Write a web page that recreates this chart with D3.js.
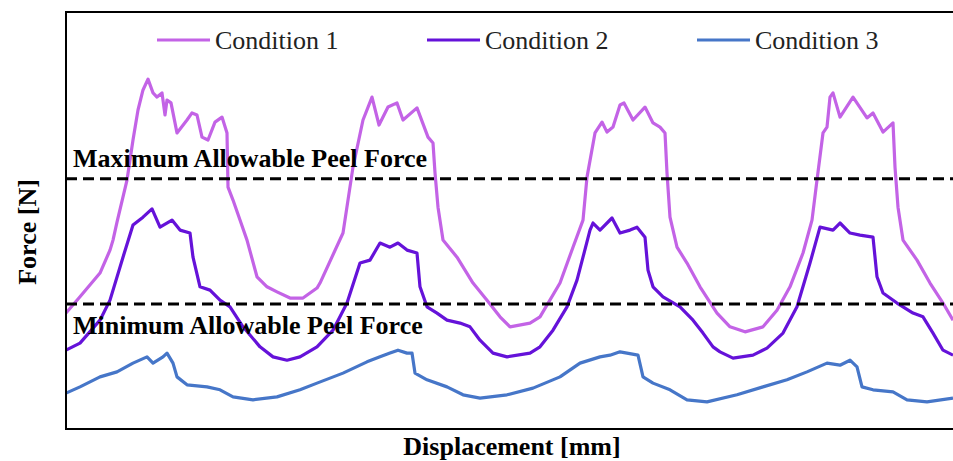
<body>
  <script src="https://d3js.org/d3.v7.min.js"></script>

  <style>
    body {
      margin: 0;
      background: #fff;
    }
    text {
      font-family: "Liberation Serif", "Times New Roman", serif;
    }
    .legend-label {
      font-size: 26px;
      fill: #222;
    }
    .ref-label, .axis-title {
      font-size: 26px;
      font-weight: bold;
      fill: #000;
    }
  </style>
  <script>
    // data (displacement, force) - arbitrary units, no tick labels in source
    const seriesNames = ["Condition 1", "Condition 2", "Condition 3"];
    const seriesColors = ["#c363e6", "#6512d9", "#4676c8"];

    const cond1 = [
      [0, 2.78], [1.4, 3.17], [3.4, 3.74], [4.4, 4.29], [4.7, 4.53], [5.1, 4.96], [6.1, 5.97], [6.7, 6.93],
      [7.2, 7.65], [7.7, 8.13], [8.2, 8.39], [8.7, 8.06], [9.1, 7.96], [9.6, 8.06], [9.9, 7.53], [10.1, 7.89],
      [10.5, 7.82], [11.1, 7.10], [12.1, 7.41], [12.6, 7.58], [13.1, 7.53], [13.6, 7.00], [14.2, 6.93],
      [14.9, 7.36], [15.6, 7.48], [16.1, 7.10], [16.2, 5.80], [16.7, 5.49], [17.4, 5.01], [18.1, 4.53],
      [19.1, 3.65], [20.1, 3.41], [21.1, 3.29], [22.4, 3.14], [23.7, 3.14], [25.1, 3.38], [25.4, 3.50],
      [27.7, 4.70], [28.7, 6.28], [29.7, 7.41], [30.6, 7.96], [31.3, 7.29], [32.2, 7.72], [33.1, 7.82],
      [33.7, 7.41], [35.1, 7.70], [36.2, 7.00], [36.7, 6.86], [36.9, 6.14], [37.2, 5.32], [37.7, 4.53],
      [39.1, 4.12], [40.7, 3.50], [42.1, 3.09], [43.4, 2.69], [44.4, 2.45], [46.4, 2.54], [47.4, 2.69],
      [49.4, 3.50], [50.7, 4.36], [51.7, 5.01], [52.1, 6.04], [52.9, 7.10], [53.6, 7.36], [54.1, 7.12],
      [54.7, 7.24], [55.4, 7.77], [55.8, 7.82], [56.7, 7.41], [57.9, 7.72], [58.7, 7.34], [59.4, 7.24],
      [59.9, 7.10], [60.1, 6.14], [60.4, 5.08], [61.1, 4.36], [62.1, 3.98], [63.4, 3.41], [65.1, 2.78],
      [66.4, 2.45], [67.9, 2.33], [69.7, 2.45], [71.1, 2.85], [72.4, 3.41], [73.7, 4.22], [74.6, 5.01],
      [75.1, 5.97], [75.7, 7.10], [76.1, 7.24], [76.4, 7.96], [76.7, 8.06], [77.4, 7.48], [78.7, 7.96],
      [80.1, 7.46], [80.7, 7.58], [81.7, 7.12], [82.7, 7.34], [82.9, 6.28], [83.2, 5.32], [83.7, 4.53],
      [85.1, 4.05], [86.4, 3.50], [87.7, 3.02], [88.7, 2.61]
    ];

    const cond2 = [
      [0, 1.89], [1.4, 2.06], [3.4, 2.61], [4.4, 3.09], [5.7, 4.12], [6.7, 4.89], [7.7, 5.08], [8.6, 5.28],
      [9.4, 4.84], [10.6, 5.01], [11.4, 4.77], [12.4, 4.70], [12.7, 4.12], [13.4, 3.41], [14.4, 3.33],
      [15.4, 3.09], [16.4, 2.93], [17.7, 2.45], [19.4, 1.97], [20.7, 1.73], [22.1, 1.65], [23.4, 1.73],
      [25.1, 1.97], [26.7, 2.37], [28.1, 3.02], [29.4, 3.98], [30.4, 4.05], [31.4, 4.46], [32.4, 4.36],
      [33.2, 4.46], [34.1, 4.29], [35.1, 4.22], [35.4, 3.41], [36.1, 2.93], [37.1, 2.78], [38.1, 2.61],
      [39.4, 2.54], [40.4, 2.45], [41.4, 2.13], [42.7, 1.82], [44.1, 1.73], [46.4, 1.82], [47.4, 1.97],
      [48.7, 2.37], [50.1, 2.93], [51.1, 3.57], [51.7, 4.12], [52.4, 4.77], [52.7, 4.94], [53.4, 4.77],
      [54.6, 5.06], [55.4, 4.70], [56.4, 4.77], [57.1, 4.84], [57.9, 4.60], [58.2, 3.81], [58.7, 3.41],
      [59.7, 3.17], [61.4, 2.93], [62.7, 2.61], [63.7, 2.30], [64.7, 1.97], [65.4, 1.85], [66.7, 1.70],
      [68.7, 1.77], [70.1, 1.94], [71.7, 2.30], [73.1, 2.93], [74.4, 3.98], [75.4, 4.84], [76.7, 4.77],
      [77.4, 4.94], [78.4, 4.70], [79.4, 4.65], [80.7, 4.60], [81.1, 3.65], [81.7, 3.26], [83.1, 3.02],
      [84.7, 2.78], [85.7, 2.69], [86.7, 2.30], [87.7, 1.89], [88.7, 1.77]
    ];

    const cond3 = [
      [0, 0.86], [1.4, 1.01], [3.4, 1.25], [5.1, 1.37], [6.7, 1.58], [8.1, 1.73], [8.7, 1.58], [9.7, 1.73],
      [10.1, 1.82], [10.7, 1.58], [11.1, 1.25], [12.1, 1.06], [14.1, 1.01], [15.4, 0.94], [16.7, 0.77],
      [18.7, 0.70], [21.1, 0.77], [23.4, 0.94], [25.1, 1.10], [27.7, 1.34], [30.1, 1.61], [31.4, 1.73],
      [32.4, 1.82], [33.2, 1.89], [34.1, 1.82], [34.6, 1.82], [34.9, 1.34], [36.1, 1.18], [38.1, 1.01],
      [39.7, 0.82], [41.4, 0.74], [44.1, 0.82], [46.7, 0.98], [49.4, 1.25], [51.4, 1.58], [53.4, 1.73],
      [54.4, 1.77], [55.4, 1.85], [56.1, 1.82], [57.2, 1.77], [57.7, 1.25], [58.7, 1.10], [60.4, 0.94],
      [62.1, 0.70], [64.1, 0.65], [67.1, 0.82], [69.7, 1.01], [72.1, 1.18], [74.1, 1.37], [76.1, 1.58],
      [77.4, 1.53], [78.4, 1.65], [79.1, 1.49], [79.6, 1.01], [80.7, 0.94], [82.7, 0.89], [84.1, 0.70],
      [86.1, 0.65], [88.7, 0.74]
    ];

    const refLines = [6, 3];
    const refLabels = ["Maximum Allowable Peel Force", "Minimum Allowable Peel Force"];

    const allSeries = [cond1, cond2, cond3];

    var margin = {top: 12, right: 0, bottom: 32, left: 66},
      width = 953 - margin.left - margin.right,
      height = 461 - margin.top - margin.bottom;

    var svg = d3.select("body").append("svg")
      .attr("width", width + margin.left + margin.right)
      .attr("height", height + margin.top + margin.bottom)
      .append("g")
      .attr("transform", "translate(" + margin.left + "," + margin.top + ")");

    const x = d3.scaleLinear().domain([0, 88.7]).range([0, width]);
    const y = d3.scaleLinear().domain([0, 10]).range([height, 0]);

    const line = d3.line()
      .x(d => x(d[0]))
      .y(d => y(d[1]));

    // the three curves
    allSeries.forEach((s, i) => {
      svg.append("path")
        .datum(s)
        .attr("fill", "none")
        .attr("stroke", seriesColors[i])
        .attr("stroke-width", 3.2)
        .attr("stroke-linejoin", "round")
        .attr("d", line);
    });

    // dashed limit lines
    refLines.forEach((v, i) => {
      svg.append("line")
        .attr("x1", 0)
        .attr("x2", width)
        .attr("y1", y(v))
        .attr("y2", y(v))
        .attr("stroke", "#000")
        .attr("stroke-width", 3)
        .attr("stroke-dasharray", "11,6");

      svg.append("text")
        .attr("class", "ref-label")
        .attr("x", 7)
        .attr("y", i === 0 ? y(v) - 12 : y(v) + 30)
        .text(refLabels[i]);
    });

    // frame: top, left, bottom (right edge is cut off)
    svg.append("path")
      .attr("d", "M" + (width + 2) + ",0H0V" + height + "H" + (width + 2))
      .attr("fill", "none")
      .attr("stroke", "#000")
      .attr("stroke-width", 2);

    // legend
    const legendX = [91, 361, 631];
    const legend = svg.append("g").attr("transform", "translate(0,28)");
    seriesNames.forEach((name, i) => {
      legend.append("line")
        .attr("x1", legendX[i])
        .attr("x2", legendX[i] + 53)
        .attr("y1", 0)
        .attr("y2", 0)
        .attr("stroke", seriesColors[i])
        .attr("stroke-width", 3);
      legend.append("text")
        .attr("class", "legend-label")
        .attr("x", legendX[i] + 58)
        .attr("y", 9)
        .text(name);
    });

    // axis titles
    svg.append("text")
      .attr("class", "axis-title")
      .attr("text-anchor", "middle")
      .attr("transform", "translate(-30," + (220) + ") rotate(-90)")
      .text("Force [N]");

    svg.append("text")
      .attr("class", "axis-title")
      .attr("text-anchor", "middle")
      .attr("x", 446)
      .attr("y", height + 26)
      .text("Displacement [mm]");
  </script>
</body>
